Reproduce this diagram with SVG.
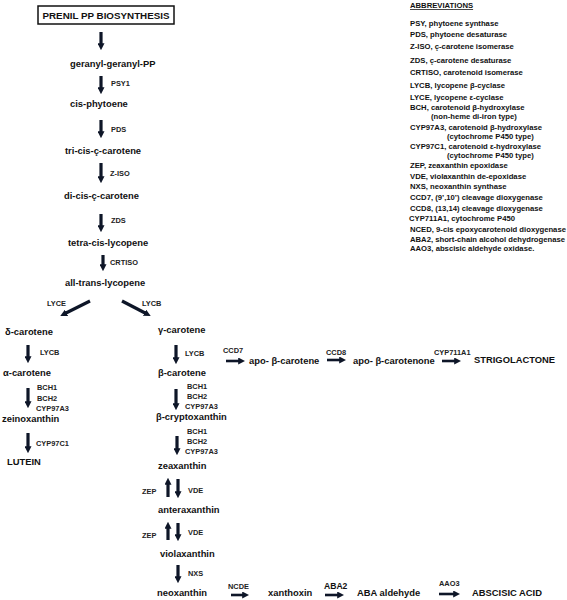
<svg xmlns="http://www.w3.org/2000/svg" width="567" height="600" viewBox="0 0 567 600">
<style>
.m{font-family:"Liberation Sans",Arial,sans-serif;font-weight:bold;font-size:9.4px;fill:#111}
.e{font-family:"Liberation Sans",Arial,sans-serif;font-weight:bold;font-size:7.4px;fill:#222}
.a{font-family:"Liberation Sans",Arial,sans-serif;font-weight:bold;font-size:7.7px;fill:#111}
.v{stroke:#0e1628;stroke-width:3.2;fill:none;marker-end:url(#ah)}
.h{stroke:#0e1628;stroke-width:2.6;fill:none;marker-end:url(#ah)}
</style>
<defs>
<marker id="ah" viewBox="0 0 10 10" refX="4" refY="5" markerWidth="7" markerHeight="7" markerUnits="userSpaceOnUse" orient="auto">
<path d="M0,0 L10,5 L0,10 z" fill="#0e1628"/>
</marker>
</defs>
<rect width="567" height="600" fill="#fff"/>
<g id="title">
<rect x="38" y="6" width="136" height="18" fill="#fff" stroke="#111" stroke-width="1.5"/>
<text class="m" x="106" y="19" text-anchor="middle" style="font-size:9.8px">PRENIL PP BIOSYNTHESIS</text>
</g>
<g id="connectors">
<line class="v" x1="101" y1="32" x2="101" y2="46"/>
<line class="v" x1="101" y1="76" x2="101" y2="90"/>
<line class="v" x1="101" y1="120" x2="101" y2="134"/>
<line class="v" x1="101" y1="163" x2="101" y2="179"/>
<line class="v" x1="101" y1="214" x2="101" y2="228"/>
<line class="v" x1="103" y1="255" x2="103" y2="267"/>
<line class="v" x1="90" y1="301" x2="64" y2="314"/>
<line class="v" x1="122" y1="301" x2="147" y2="314"/>
<line class="v" x1="28" y1="345" x2="28" y2="359"/>
<line class="v" x1="28" y1="388" x2="28" y2="404"/>
<line class="v" x1="28" y1="433" x2="28" y2="449"/>
<line class="v" x1="176" y1="345" x2="176" y2="360"/>
<line class="v" x1="176" y1="389" x2="176" y2="406"/>
<line class="v" x1="177" y1="436" x2="177" y2="451"/>
<line class="v" x1="168" y1="497" x2="168" y2="482"/>
<line class="v" x1="178" y1="479" x2="178" y2="494"/>
<line class="v" x1="168" y1="540" x2="168" y2="526"/>
<line class="v" x1="178" y1="523" x2="178" y2="537"/>
<line class="v" x1="178" y1="565" x2="178" y2="579"/>
<line class="h" x1="226" y1="361" x2="241" y2="361"/>
<line class="h" x1="327" y1="360" x2="342" y2="360"/>
<line class="h" x1="442" y1="361" x2="457" y2="361"/>
<line class="h" x1="231" y1="595" x2="245" y2="595"/>
<line class="h" x1="325" y1="595" x2="340" y2="595"/>
<line class="h" x1="439" y1="594" x2="456" y2="594"/>
</g>
<g id="ggpp"><text class="m" x="70" y="67">geranyl-geranyl-PP</text></g>
<g id="phytoene"><text class="m" x="70" y="107">cis-phytoene</text></g>
<g id="tricis"><text class="m" x="65" y="154">tri-cis-ç-carotene</text></g>
<g id="dicis"><text class="m" x="64" y="199">di-cis-ç-carotene</text></g>
<g id="tetracis"><text class="m" x="68" y="246">tetra-cis-lycopene</text></g>
<g id="alltrans"><text class="m" x="65" y="286">all-trans-lycopene</text></g>
<g id="delta"><text class="m" x="5" y="335">δ-carotene</text></g>
<g id="alpha"><text class="m" x="3" y="376">α-carotene</text></g>
<g id="zein"><text class="m" x="2" y="422">zeinoxanthin</text></g>
<g id="lutein"><text class="m" x="7" y="465">LUTEIN</text></g>
<g id="gamma"><text class="m" x="158" y="333">γ-carotene</text></g>
<g id="beta"><text class="m" x="158" y="376">β-carotene</text></g>
<g id="apobc"><text class="m" x="249" y="364">apo- β-carotene</text></g>
<g id="apobcn"><text class="m" x="353" y="364">apo- β-carotenone</text></g>
<g id="strigo"><text class="m" x="474" y="363">STRIGOLACTONE</text></g>
<g id="crypto"><text class="m" x="156" y="420">β-cryptoxanthin</text></g>
<g id="zea"><text class="m" x="158" y="469">zeaxanthin</text></g>
<g id="antera"><text class="m" x="158" y="513">anteraxanthin</text></g>
<g id="viola"><text class="m" x="160" y="557">violaxanthin</text></g>
<g id="neo"><text class="m" x="157" y="596">neoxanthin</text></g>
<g id="xanthoxin"><text class="m" x="268" y="596">xanthoxin</text></g>
<g id="abaald"><text class="m" x="357" y="596">ABA aldehyde</text></g>
<g id="aba"><text class="m" x="472" y="596">ABSCISIC ACID</text></g>
<g id="enzymes">
<text class="e" x="111" y="86">PSY1</text>
<text class="e" x="111" y="132">PDS</text>
<text class="e" x="110" y="176">Z-ISO</text>
<text class="e" x="111" y="223">ZDS</text>
<text class="e" x="110" y="265">CRTISO</text>
<text class="e" x="47" y="306">LYCE</text>
<text class="e" x="142" y="306">LYCB</text>
<text class="e" x="40" y="355">LYCB</text>
<text class="e" x="37" y="390">BCH1</text>
<text class="e" x="37" y="401">BCH2</text>
<text class="e" x="36" y="411">CYP97A3</text>
<text class="e" x="36" y="446">CYP97C1</text>
<text class="e" x="185" y="356">LYCB</text>
<text class="e" x="223" y="353">CCD7</text>
<text class="e" x="326" y="355">CCD8</text>
<text class="e" x="434" y="355">CYP711A1</text>
<text class="e" x="187" y="389">BCH1</text>
<text class="e" x="187" y="399">BCH2</text>
<text class="e" x="185" y="409">CYP97A3</text>
<text class="e" x="187" y="434">BCH1</text>
<text class="e" x="187" y="444">BCH2</text>
<text class="e" x="185" y="454">CYP97A3</text>
<text class="e" x="142" y="494">ZEP</text>
<text class="e" x="188" y="493">VDE</text>
<text class="e" x="142" y="538">ZEP</text>
<text class="e" x="188" y="535">VDE</text>
<text class="e" x="188" y="576">NXS</text>
<text class="e" x="228" y="589">NCDE</text>
<text class="m" x="324" y="589" style="font-size:8.6px">ABA2</text>
<text class="e" x="439" y="586">AAO3</text>
</g>
<g id="abbreviations">
<text class="a" x="410" y="8" text-decoration="underline">ABBREVIATIONS</text>
<text class="a" x="410" y="26">PSY, phytoene synthase</text>
<text class="a" x="410" y="37">PDS, phytoene desaturase</text>
<text class="a" x="410" y="49">Z-ISO, ç-carotene isomerase</text>
<text class="a" x="410" y="63">ZDS, ç-carotene desaturase</text>
<text class="a" x="410" y="75">CRTISO, carotenoid isomerase</text>
<text class="a" x="410" y="88">LYCB, lycopene β-cyclase</text>
<text class="a" x="410" y="100">LYCE, lycopene ε-cyclase</text>
<text class="a" x="410" y="110">BCH, carotenoid β-hydroxylase</text>
<text class="a" x="431" y="119">(non-heme di-iron type)</text>
<text class="a" x="410" y="130">CYP97A3, carotenoid β-hydroxylase</text>
<text class="a" x="447" y="139">(cytochrome P450 type)</text>
<text class="a" x="410" y="149">CYP97C1, carotenoid ε-hydroxylase</text>
<text class="a" x="447" y="158">(cytochrome P450 type)</text>
<text class="a" x="410" y="168">ZEP, zeaxanthin epoxidase</text>
<text class="a" x="410" y="179">VDE, violaxanthin de-epoxidase</text>
<text class="a" x="410" y="189">NXS, neoxanthin synthase</text>
<text class="a" x="410" y="200">CCD7, (9’,10’) cleavage dioxygenase</text>
<text class="a" x="410" y="211">CCD8, (13,14) cleavage dioxygenase</text>
<text class="a" x="409" y="221">CYP711A1, cytochrome P450</text>
<text class="a" x="410" y="232">NCED, 9-cis epoxycarotenoid dioxygenase</text>
<text class="a" x="410" y="242">ABA2, short-chain alcohol dehydrogenase</text>
<text class="a" x="410" y="251">AAO3, abscisic aldehyde oxidase.</text>
</g>
</svg>
